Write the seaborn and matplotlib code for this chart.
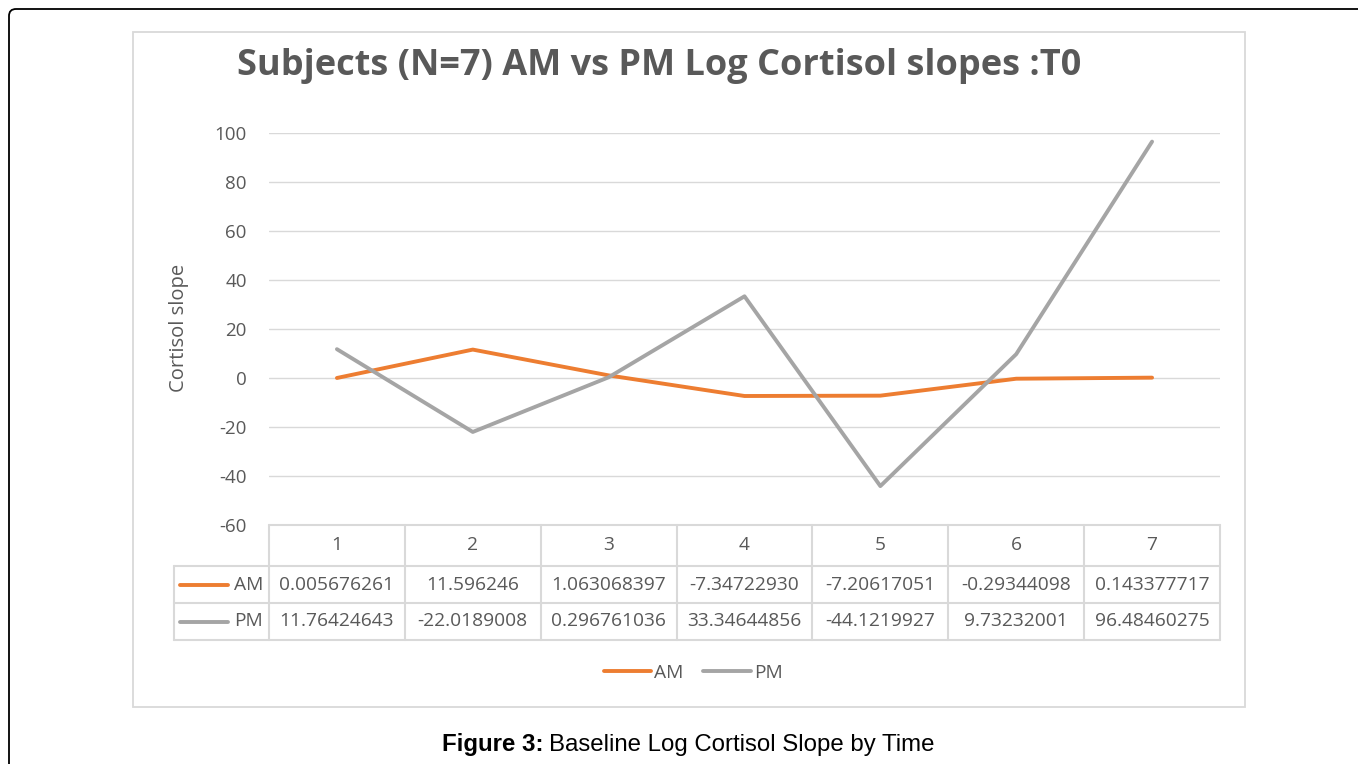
import seaborn as sns
import matplotlib.pyplot as plt
import matplotlib.transforms as mtransforms
from matplotlib.patches import FancyBboxPatch, Rectangle
import pandas as pd

# -------------------------
# Data
# -------------------------

subjects = [1, 2, 3, 4, 5, 6, 7]
am_values = [0.005676261, 11.596246, 1.063068397, -7.34722930, -7.20617051, -0.29344098, 0.143377717]
pm_values = [11.76424643, -22.0189008, 0.296761036, 33.34644856, -44.1219927, 9.73232001, 96.48460275]
am_labels = ["0.005676261", "11.596246", "1.063068397", "-7.34722930", "-7.20617051", "-0.29344098", "0.143377717"]
pm_labels = ["11.76424643", "-22.0189008", "0.296761036", "33.34644856", "-44.1219927", "9.73232001", "96.48460275"]
y_ticks = [-60, -40, -20, 0, 20, 40, 60, 80, 100]

df = pd.DataFrame({
    "Subject": subjects * 2,
    "Slope": am_values + pm_values,
    "Session": ["AM"] * 7 + ["PM"] * 7,
})

# -------------------------
# Styling
# -------------------------

sns.set_style("white")
plt.rcParams["font.family"] = ["Open Sans", "DejaVu Sans"]
plt.rcParams["axes.unicode_minus"] = False

TEXT = "#595959"
GRID = "#d9d9d9"
palette = {"AM": "#ED7D31", "PM": "#A5A5A5"}
FS = 13.8

W, H = 1358, 764
fig = plt.figure(figsize=(W / 100, H / 100), dpi=100)


def fx(px):
    return px / W


def fy(py):
    return 1 - py / H


# outer black frame (rounded corner top-left)
frame = FancyBboxPatch((9, -30), 1500, H - 9 + 30, boxstyle="round,pad=0,rounding_size=7",
                       fill=False, edgecolor="black", linewidth=1.3,
                       transform=mtransforms.IdentityTransform())
fig.add_artist(frame)

# chart area box
fig.add_artist(Rectangle((fx(133), fy(707)), fx(1245) - fx(133), fy(32) - fy(707),
                         transform=fig.transFigure, fill=False, edgecolor=GRID, linewidth=1.3))

# -------------------------
# Line chart
# -------------------------

ax = fig.add_axes([fx(269), fy(525), fx(1220) - fx(269), fy(133) - fy(525)])
sns.lineplot(data=df, x="Subject", y="Slope", hue="Session", palette=palette,
             linewidth=2.8, ax=ax, legend=False)

ax.set_xlim(0.5, 7.5)
ax.set_ylim(-60, 100)
ax.set_yticks(y_ticks)
ax.set_xticks([])
ax.set_xlabel("")
ax.set_ylabel("")
ax.tick_params(axis="y", length=0, pad=16, labelsize=13.5, labelcolor=TEXT)
ax.yaxis.grid(True, color=GRID, linewidth=1)
ax.set_axisbelow(True)
for s in ax.spines.values():
    s.set_visible(False)

fig.text(fx(179), fy(328), "Cortisol slope", rotation=90, ha="center", va="center",
         fontsize=14.5, color=TEXT)

fig.text(fx(659), fy(66), "Subjects (N=7) AM vs PM Log Cortisol slopes :T0",
         ha="center", va="center", fontsize=26, fontweight="bold", color=TEXT)

# -------------------------
# Data table under the axis
# -------------------------

tab = fig.add_axes([fx(269), fy(640), fx(1220) - fx(269), fy(525) - fy(640)])
tab.set_xlim(0.5, 7.5)
tab.set_ylim(115, 0)
tab.axis("off")

label_left = 0.5 - 95 / 136
tab.plot([0.5, 7.5], [0, 0], color=GRID, lw=1.5, clip_on=False)
for yy in [41, 78, 115]:
    tab.plot([label_left, 7.5], [yy, yy], color=GRID, lw=1.5, clip_on=False)
tab.plot([label_left, label_left], [41, 115], color=GRID, lw=1.5, clip_on=False)
for xx in [s - 0.5 for s in subjects] + [7.5]:
    tab.plot([xx, xx], [0, 115], color=GRID, lw=1.5, clip_on=False)

for s, a, p in zip(subjects, am_labels, pm_labels):
    tab.text(s, 20.5, str(s), ha="center", va="center", fontsize=FS, color=TEXT)
    tab.text(s, 59.5, a, ha="center", va="center", fontsize=FS, color=TEXT)
    tab.text(s, 96.5, p, ha="center", va="center", fontsize=FS, color=TEXT)

for name, yy in [("AM", 59.5), ("PM", 96.5)]:
    tab.plot([-0.154, 0.199], [yy, yy], color=palette[name], lw=2.8, clip_on=False,
             solid_capstyle="round")
    tab.text(0.456, yy, name, ha="right", va="center", fontsize=FS, color=TEXT)

# -------------------------
# Bottom legend
# -------------------------

handles = ax.get_lines()[:2]
fig.legend(handles, ["AM", "PM"], loc="center", bbox_to_anchor=(fx(693), fy(673)),
           ncol=2, frameon=False, fontsize=FS, labelcolor=TEXT, handlelength=2.5,
           handletextpad=0.15, columnspacing=1.0)

# caption
cap_font = ["Liberation Sans", "DejaVu Sans"]
cap1 = fig.text(fx(442), fy(745), "Figure 3:", ha="left", va="center", fontsize=17.3,
                fontweight="bold", family=cap_font, color="black")
ax.annotate("Baseline Log Cortisol Slope by Time", xy=(1, 0.5), xycoords=cap1,
            xytext=(4, 0), textcoords="offset points", ha="left", va="center",
            fontsize=17.3, family=cap_font, color="black", annotation_clip=False)

plt.savefig("out.png", dpi=100)
plt.close()
